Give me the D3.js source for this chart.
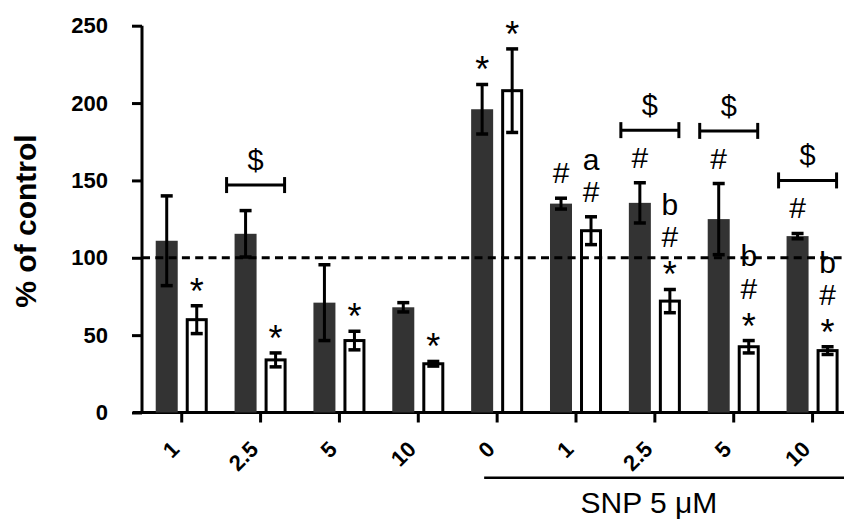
<!DOCTYPE html>
<html>
<head>
<meta charset="utf-8">
<script src="https://cdn.jsdelivr.net/npm/d3@7"></script>
<style>
  body { margin: 0; background: #fff; }
  text { font-family: Arial, "Liberation Sans", sans-serif; }
</style>
</head>
<body>
<svg width="844" height="525"></svg>
<script>
// bar chart, % of control, two series per dose, SNP block on the right

var groupLabels = ["1", "2.5", "5", "10", "0", "1", "2.5", "5", "10"];
var darkMeans = [111, 115.5, 71, 68, 196, 135, 135.5, 125, 114];
var darkErr = [29, 15, 24.5, 3, 16, 3.5, 13, 23, 1.7];
var whiteMeans = [60, 34, 46.5, 31.5, 208, 117.5, 72, 42.5, 40];
var whiteErr = [9, 4.5, 6, 1.5, 27, 9, 7.5, 4, 2.5];
var yTicks = [0, 50, 100, 150, 200, 250];

// significance marks (top to bottom)
var darkNotes = [[], [], [], [], ["*"], ["#"], ["#"], ["#"], ["#"]];
var whiteNotes = [["*"], ["*"], ["*"], ["*"], ["*"], ["a", "#"], ["b", "#", "*"], ["b", "#", "*"], ["b", "#", "*"]];
var bracketGroups = [1, 6, 7, 8];
var bracketLevels = [147, 182.5, 182, 150];
var snpFrom = 4; // SNP 5 uM groups start here

var pic = d3.select("svg");

var x = d3.scaleBand().domain(d3.range(groupLabels.length)).range([142.3, 852]).padding(0);
var bw = x.bandwidth();
var sub = d3.scaleBand().domain(["dark", "white"]).range([-bw / 2, bw / 2])
  .paddingInner(0.267).paddingOuter(0.447);
var y = d3.scaleLinear().domain([0, 250]).range([412.5, 25.7]);

var cx = function(i) { return x(i) + bw / 2; };
var sw = sub.bandwidth();

// y axis
var yAxis = d3.axisLeft(y).tickValues(yTicks).tickSize(10).tickPadding(24);
var gy = pic.append("g").attr("transform", "translate(142,0)").call(yAxis);
gy.select(".domain").attr("stroke", "#000").attr("stroke-width", 3).attr("d", "M0," + y(250) + "V" + (y(0) + 1.5));
gy.selectAll(".tick line").attr("stroke", "#000").attr("stroke-width", 3);
gy.selectAll(".tick text").attr("fill", "#000").style("font-size", "22px").style("font-weight", "bold")
  .attr("font-family", null);

// x axis
var xAxis = d3.axisBottom(x).tickFormat(function(d) { return groupLabels[d]; }).tickSize(10).tickSizeOuter(0);
var gx = pic.append("g").attr("transform", "translate(0," + y(0) + ")").call(xAxis);
gx.select(".domain").attr("stroke", "#000").attr("stroke-width", 3).attr("d", "M133,0H844");
gx.selectAll(".tick line").attr("stroke", "#000").attr("stroke-width", 3);
gx.selectAll(".tick text").attr("fill", "#000").style("font-size", "22px").style("font-weight", "bold")
  .attr("font-family", null)
  .attr("text-anchor", "end").attr("dy", null).attr("y", null)
  .attr("transform", "translate(-1,38) rotate(-45)");

// bars
pic.selectAll(".dark").data(darkMeans).enter().append("rect")
  .attr("x", function(d, i) { return cx(i) + sub("dark"); })
  .attr("y", function(d) { return y(d); })
  .attr("width", sw)
  .attr("height", function(d) { return y(0) - y(d); })
  .attr("fill", "#333333");

pic.selectAll(".white").data(whiteMeans).enter().append("rect")
  .attr("x", function(d, i) { return cx(i) + sub("white") + 1.5; })
  .attr("y", function(d) { return y(d); })
  .attr("width", sw - 3)
  .attr("height", function(d) { return y(0) - y(d); })
  .attr("fill", "#fff").attr("stroke", "#000").attr("stroke-width", 3);

// dashed control line
pic.append("line").attr("x1", 142).attr("x2", 844).attr("y1", y(100)).attr("y2", y(100))
  .attr("stroke", "#000").attr("stroke-width", 3).attr("stroke-dasharray", "8,5.3");

// error bars
var drawErr = function(xc, m, e) {
  var g = pic.append("g").attr("stroke", "#000");
  g.append("line").attr("x1", xc).attr("x2", xc).attr("y1", y(m + e)).attr("y2", y(m - e)).attr("stroke-width", 3);
  g.append("line").attr("x1", xc - 6).attr("x2", xc + 6).attr("y1", y(m + e)).attr("y2", y(m + e)).attr("stroke-width", 3.5);
  g.append("line").attr("x1", xc - 6).attr("x2", xc + 6).attr("y1", y(m - e)).attr("y2", y(m - e)).attr("stroke-width", 3.5);
};
groupLabels.forEach(function(l, i) {
  drawErr(cx(i) + sub("dark") + sw / 2, darkMeans[i], darkErr[i]);
  drawErr(cx(i) + sub("white") + sw / 2, whiteMeans[i], whiteErr[i]);
});

// stacked marks above error bars
var drawNotes = function(xc, top, notes) {
  var base = top;
  var lines = notes.slice().reverse();
  lines.forEach(function(t, k) {
    var star = t == "*";
    if (k == 0) base = star ? top - 2 : top - 15;
    pic.append("text").attr("x", xc).attr("y", base).attr("text-anchor", "middle")
      .style("font-size", star ? "36px" : "30px").text(t);
    var glyphTop = base - (star ? 26 : 21.6);
    base = glyphTop - (star ? 14 : 10.5);
  });
};
groupLabels.forEach(function(l, i) {
  drawNotes(cx(i) + sub("dark") + sw / 2, y(darkMeans[i] + darkErr[i]), darkNotes[i]);
  drawNotes(cx(i) + sub("white") + sw / 2, y(whiteMeans[i] + whiteErr[i]), whiteNotes[i]);
});

// $ brackets
bracketGroups.forEach(function(gi, k) {
  var by = y(bracketLevels[k]);
  var x1 = cx(gi) - 34, x2 = cx(gi) + 24;
  var g = pic.append("g").attr("stroke", "#000").attr("stroke-width", 3);
  g.append("line").attr("x1", x1).attr("x2", x2).attr("y1", by).attr("y2", by);
  g.append("line").attr("x1", x1).attr("x2", x1).attr("y1", by - 8).attr("y2", by + 8);
  g.append("line").attr("x1", x2).attr("x2", x2).attr("y1", by - 8).attr("y2", by + 8);
  pic.append("text").attr("x", (x1 + x2) / 2).attr("y", by - 15).attr("text-anchor", "middle")
    .style("font-size", "29px").text("$");
});

// SNP group line
pic.append("line").attr("x1", cx(snpFrom) - 13).attr("x2", 844).attr("y1", 477.7).attr("y2", 477.7)
  .attr("stroke", "#000").attr("stroke-width", 2.5);
pic.append("text").attr("x", cx(6) - 6).attr("y", 513).attr("text-anchor", "middle")
  .style("font-size", "30px").text("SNP 5 \u03BCM");

// y label
pic.append("text").attr("transform", "translate(36,221) rotate(-90)").attr("text-anchor", "middle")
  .style("font-size", "30px").style("font-weight", "bold").text("% of control");
</script>
</body>
</html>
